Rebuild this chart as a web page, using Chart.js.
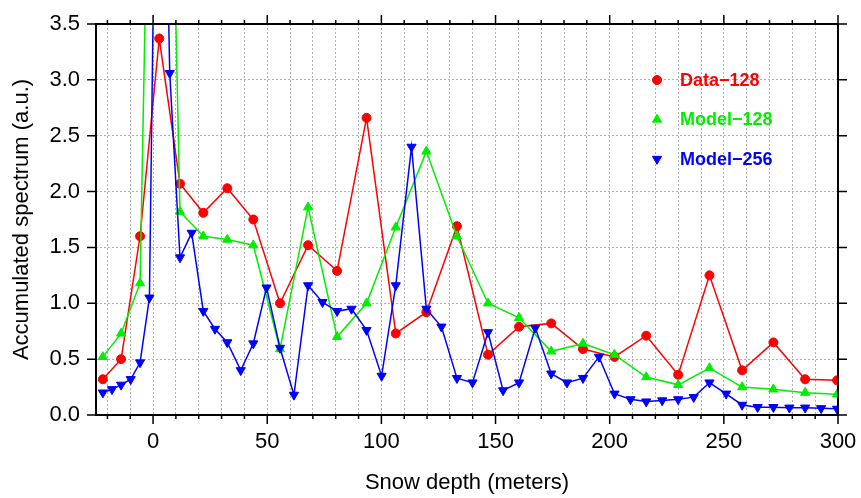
<!DOCTYPE html>
<html>
<head>
<meta charset="utf-8">
<script src="https://cdn.jsdelivr.net/npm/chart.js@4"></script>
<style>
  html, body { margin: 0; padding: 0; background: #fff; }
  #wrap { width: 861px; height: 498px; position: relative; }
</style>
</head>
<body>
<div id="wrap"><canvas id="snowChart"></canvas></div>
<script>
// snow depth positions (meters) of the coarse series (Data-128, Model-128)
const depth = [-22, -14, -5.7, 2.7, 11.8, 22, 32.5, 43.9, 55.6, 67.9, 80.6, 93.5, 106.3, 119.7,
  133.1, 146.7, 160.3, 174.4, 188.3, 202.1, 216, 230, 243.7, 258, 271.7, 285.6, 299.6];
// positions of the finer Model-256 series
const depthFine = [-22, -18, -14, -9.8, -5.7, -1.6, 2.7, 7.3, 11.8, 16.9, 22, 27.1, 32.5, 38.4,
  43.9, 49.7, 55.6, 61.7, 67.9, 74.2, 80.6, 86.9, 93.5, 100.1, 106.3, 113.2, 119.7, 126.3,
  133.1, 139.9, 146.7, 153.3, 160.3, 167.4, 174.4, 181.3, 188.3, 195.3, 202.1, 209.1, 216,
  223, 230, 236.8, 243.7, 251, 258, 264.8, 271.7, 278.7, 285.6, 292.6, 299.6];

const data128 = [0.32, 0.50, 1.60, 3.37, 2.07, 1.81, 2.03, 1.75, 1.00, 1.52, 1.29, 2.66, 0.73, 0.92,
  1.69, 0.54, 0.79, 0.82, 0.59, 0.52, 0.71, 0.36, 1.25, 0.40, 0.65, 0.32, 0.31];
const model128 = [0.52, 0.73, 1.18, 10.3, 1.82, 1.60, 1.57, 1.52, 0.59, 1.86, 0.70, 1.00, 1.68, 2.36,
  1.60, 1.00, 0.87, 0.57, 0.64, 0.54, 0.34, 0.27, 0.42, 0.25, 0.23, 0.20, 0.185];
const model256 = [0.20, 0.23, 0.27, 0.32, 0.47, 1.05, 7.8, 3.06, 1.41, 1.63, 0.93, 0.77, 0.65, 0.40,
  0.64, 1.14, 0.60, 0.18, 1.16, 1.01, 0.93, 0.95, 0.76, 0.35, 1.16, 2.40, 0.95, 0.79,
  0.33, 0.29, 0.74, 0.22, 0.29, 0.78, 0.37, 0.29, 0.33, 0.52, 0.19, 0.14, 0.12,
  0.13, 0.14, 0.16, 0.29, 0.19, 0.09, 0.07, 0.07, 0.065, 0.065, 0.06, 0.055];

const seriesNames = ['Data\u2212128', 'Model\u2212128', 'Model\u2212256'];

const xTicks = [];
for (let v = -20; v <= 300; v += 10) xTicks.push(v);
const yTicks = [0, 0.5, 1, 1.5, 2, 2.5, 3, 3.5];

const FONT = '"Liberation Sans", Arial, Helvetica, sans-serif';

const pts = (xs, ys) => xs.map((x, i) => ({ x: x, y: ys[i] }));

// box round the plot with outward ticks on all four sides
const framePlugin = {
  id: 'frame',
  afterDraw(chart) {
    const { ctx, chartArea: a, scales: { x, y } } = chart;
    ctx.save();
    ctx.strokeStyle = '#000';
    ctx.lineWidth = 1.5;
    ctx.beginPath();
    xTicks.forEach(v => {
      const px = x.getPixelForValue(v);
      const len = v % 50 === 0 ? 9 : 4;
      ctx.moveTo(px, a.bottom); ctx.lineTo(px, a.bottom + len);
      ctx.moveTo(px, a.top); ctx.lineTo(px, a.top - len);
    });
    yTicks.forEach(v => {
      const py = y.getPixelForValue(v);
      ctx.moveTo(a.left, py); ctx.lineTo(a.left - 9, py);
      ctx.moveTo(a.right, py); ctx.lineTo(a.right + 9, py);
    });
    ctx.stroke();
    ctx.lineWidth = 2;
    ctx.strokeRect(a.left, a.top, a.right - a.left, a.bottom - a.top);
    ctx.restore();
  }
};

// legend drawn inside the plot, top right
const legendPlugin = {
  id: 'innerLegend',
  afterDraw(chart) {
    const ctx = chart.ctx;
    const order = [2, 1, 0];
    ctx.save();
    ctx.font = 'bold 18px ' + FONT;
    ctx.textBaseline = 'middle';
    order.forEach((di, row) => {
      const ds = chart.data.datasets[di];
      const yy = 80 + row * 39.5;
      ctx.fillStyle = ds.backgroundColor;
      ctx.strokeStyle = ds.borderColor;
      Chart.helpers.drawPoint(ctx, {
        pointStyle: ds.pointStyle, radius: ds.pointRadius,
        rotation: ds.pointRotation || 0, borderWidth: 1
      }, 657, yy);
      ctx.fillStyle = ds.borderColor;
      ctx.fillText(ds.label, 680, yy + 1);
    });
    ctx.restore();
  }
};

new Chart(document.getElementById('snowChart'), {
  type: 'line',
  data: {
    datasets: [
      {
        label: seriesNames[2], data: pts(depthFine, model256), order: 0,
        borderColor: '#0000ff', backgroundColor: '#0000ff', borderWidth: 1.5,
        pointStyle: 'triangle', pointRotation: 180, pointRadius: 5.3, pointBorderWidth: 1
      },
      {
        label: seriesNames[1], data: pts(depth, model128), order: 1,
        borderColor: '#00ee00', backgroundColor: '#00ee00', borderWidth: 1.5,
        pointStyle: 'triangle', pointRadius: 5.3, pointBorderWidth: 1
      },
      {
        label: seriesNames[0], data: pts(depth, data128), order: 2,
        borderColor: '#ff0000', backgroundColor: '#ff0000', borderWidth: 1.5,
        pointStyle: 'circle', pointRadius: 4.5, pointBorderWidth: 1
      }
    ]
  },
  options: {
    responsive: true,
    maintainAspectRatio: false,
    animation: false,
    layout: { padding: { top: 24, right: 23, left: 0, bottom: 0 } },
    plugins: { legend: { display: false }, tooltip: { enabled: false } },
    elements: { line: { tension: 0 } },
    scales: {
      x: {
        type: 'linear', min: -25, max: 300,
        afterBuildTicks: s => { s.ticks = xTicks.map(v => ({ value: v })); },
        afterFit: s => { s.height = 83; s.paddingLeft = 0; s.paddingRight = 0; },
        ticks: {
          autoSkip: false, maxRotation: 0, padding: 14, color: '#000',
          font: { family: FONT, size: 22 },
          callback: v => (v % 50 === 0 ? String(v) : '')
        },
        grid: { color: '#b0b0b0', lineWidth: 1, drawTicks: false },
        border: { display: false, dash: [2, 2] },
        title: {
          display: true, text: 'Snow depth (meters)', color: '#000',
          font: { family: FONT, size: 22 }, padding: { top: 0, bottom: 2 }
        }
      },
      y: {
        type: 'linear', min: 0, max: 3.5,
        afterBuildTicks: s => { s.ticks = yTicks.map(v => ({ value: v })); },
        afterFit: s => { s.width = 96; s.paddingTop = 0; s.paddingBottom = 0; },
        ticks: {
          padding: 16, color: '#000',
          font: { family: FONT, size: 22 },
          callback: v => v.toFixed(1)
        },
        grid: { color: '#b0b0b0', lineWidth: 1, drawTicks: false },
        border: { display: false, dash: [2, 2] },
        title: {
          display: true, text: 'Accumulated spectrum (a.u.)', color: '#000',
          font: { family: FONT, size: 22 }, padding: { top: 9, bottom: 0 }
        }
      }
    }
  },
  plugins: [framePlugin, legendPlugin]
});
</script>
</body>
</html>
